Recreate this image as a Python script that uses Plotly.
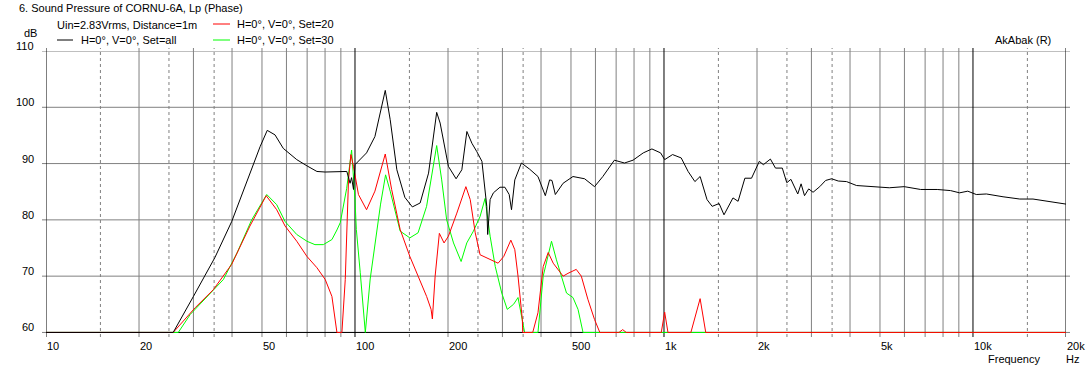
import numpy as np
import plotly.graph_objects as go

# ---------------- data ----------------
freq_all = [10, 25.8, 30, 35.2, 39.9, 45.7, 49.3, 52.0, 55.1, 58.6, 64.8, 69.9, 75.3, 80, 94.1, 96.4, 97.5,
            98.9, 100, 109, 116, 125.3, 130, 136.6, 145, 153.3, 162.5, 173, 183.8, 188.6, 200.6, 212.4,
            221.7, 230.2, 239, 248, 257.5, 267, 268.8, 273.7, 280.5, 294.6, 305.6, 315.5, 321, 329, 345.6,
            367.5, 391, 413, 426.4, 434, 445, 471.5, 507.5, 553.5, 596, 634, 691, 745, 794, 857, 914, 975,
            1005, 1066, 1137, 1197, 1259, 1309, 1378, 1432, 1508, 1564, 1672, 1737, 1827, 1920, 2035, 2097,
            2210, 2295, 2415, 2497, 2575, 2710, 2778, 2850, 2940, 3037, 3193, 3335, 3487, 3665, 3897, 4199,
            4979, 5360, 5990, 6770, 7660, 8460, 9050, 9620, 10250, 11050, 12510, 14170, 15640, 17730, 20000]
spl_all = [60, 60, 66.4, 73.3, 79.7, 88.3, 93.0, 95.9, 95.1, 92.7, 90.7, 89.6, 88.6, 88.5, 88.6, 86.5, 87.5,
           85.4, 89.8, 91.9, 94.8, 103.0, 97.8, 88.9, 84.0, 82.3, 83.0, 88.3, 99.1, 97.2, 89.5, 87.3,
           88.9, 95.7, 93.6, 92.1, 90.4, 82.4, 77.4, 83.6, 84.8, 85.8, 85.8, 84.5, 81.8, 87.1, 90.1,
           89.0, 87.7, 84.3, 87.1, 87.0, 84.5, 86.5, 87.7, 87.3, 85.9, 87.7, 90.6, 90.1, 90.6, 91.9, 92.6, 91.9,
           90.7, 91.6, 91.0, 88.6, 86.8, 87.7, 83.6, 82.4, 82.9, 80.9, 83.9, 83.3, 87.4, 87.4, 90.4, 89.8,
           90.8, 89.2, 89.2, 86.6, 87.2, 84.6, 86.4, 84.3, 85.5, 84.9, 85.9, 87.0, 87.3, 86.9, 86.8, 86.1,
           85.9, 85.7, 85.9, 85.4, 85.4, 85.2, 84.8, 85.1, 84.5, 84.6, 84.1, 83.7, 83.7, 83.3, 82.8]

freq_20 = [10, 25.8, 30.4, 34.8, 39.9, 45.7, 51.6, 55.8, 59.4, 64.8, 69.9, 75.3, 80.1, 84.2, 87.4, 90.7, 93,
           95.3, 97, 98.9, 102.6, 109, 116, 125.3, 131.4, 140, 150.5, 160, 170.5, 176.3, 178, 181.7, 187.5,
           194.2, 200.6, 213.6, 228.5, 236, 245, 254, 267, 277, 290.5, 303, 319.4, 329, 337, 348, 349, 376,
           391, 406.5, 422, 438, 471.5, 489, 520, 540, 567, 596, 620, 715, 735, 755, 980, 1005, 1030, 1222,
           1309, 1365, 20000]
spl_20 = [60, 60, 64.4, 67.6, 72.1, 78.9, 84.3, 81.8, 78.9, 76.2, 73.5, 71.5, 69.4, 66.4, 60, 60, 69.4,
          87.1, 91.6, 89.5, 84.5, 81.8, 85.1, 91.7, 85.4, 78.3, 73.5, 70, 66.4, 64.1, 62.4, 70, 77.6,
          75.9, 77.1, 81.2, 85.9, 83.6, 77.7, 73.8, 73.2, 72.9, 72.3, 73.5, 76.4, 74.7, 70, 62.3, 60, 60,
          63.5, 71.7, 74.2, 72.3, 70, 70.5, 71.2, 70, 65.9, 62.3, 60, 60, 60.5, 60, 60, 63.6, 60, 60,
          66.0, 60, 60]

freq_30 = [10, 26.8, 29.3, 33.1, 37.5, 41.5, 46.3, 51.8, 55.8, 59.4, 64.8, 69.9, 74.2, 79, 84.2, 87.4, 89.6,
           94, 97.5, 100, 101, 104, 105.4, 108, 112, 121, 125.6, 130, 140, 150.5, 160, 170.5, 183.8, 190.8,
           198, 208.4, 220.5, 230, 241.7, 254, 263.6, 273.7, 284.4, 298.5, 311, 326, 337, 345, 354, 391,
           406.5, 432.5, 448.7, 483.6, 507.5, 527, 547, 20000]
spl_30 = [60, 60, 63.2, 66.2, 69.4, 74.1, 80, 84.5, 82.7, 79.7, 77.4, 76.2, 75.6, 75.6, 76.5, 78.2, 79.5,
          85.6, 92.4, 83.6, 78.3, 70.6, 67, 60, 69.5, 82.8, 88, 85.1, 78, 76.8, 77.7, 82.4, 93.2, 87.1,
          80, 75.9, 72.6, 75.9, 78, 80.6, 83.8, 77.1, 71.7, 67, 64.1, 65, 66.2, 63.5, 60, 60,
          70, 76.2, 72.9, 67, 66.2, 64.1, 60, 60]

x_tick_vals = [10, 20, 50, 100, 200, 500, 1000, 2000, 5000, 10000, 20000]
x_tick_text = ["10", "20", "50", "100", "200", "500", "1k", "2k", "5k", "10k", "20k"]
y_tick_vals = [60, 70, 80, 90, 100, 110]

decades = [10, 100, 1000, 10000, 20000]
minor_lines = [d * m for d in (10, 100, 1000) for m in range(2, 10)]
dashed_lines = [15, 25, 35, 150, 250, 350, 1500, 2500, 3500, 15000]

# ---------------- layout helpers ----------------
W, H = 1092, 371
L, R, T, B = 46, 1066, 51, 333   # plot-area edges in pixels


def px(x):
    return (x - L) / (R - L)


def py(y):
    return (B - y) / (B - T)


FONT = "Liberation Sans"
GRAY = "#808080"

fig = go.Figure()
for f, s, c in [(freq_30, spl_30, "#00ff00"), (freq_20, spl_20, "#ff0000"), (freq_all, spl_all, "#000000")]:
    fig.add_trace(go.Scatter(x=f, y=s, mode="lines", line=dict(color=c, width=1), hoverinfo="skip",
                             showlegend=False))

shapes = []
ylo = -4 / (B - T)
yhi = 1 + 3 / (B - T)
for v in y_tick_vals:
    shapes.append(dict(type="line", xref="paper", yref="y", x0=-4 / (R - L), x1=1 + 4 / (R - L), y0=v, y1=v,
                       line=dict(color=GRAY, width=1), layer="below"))
for v in minor_lines:
    shapes.append(dict(type="line", xref="x", yref="paper", x0=v, x1=v, y0=ylo, y1=yhi,
                       line=dict(color=GRAY, width=1), layer="below"))
for v in dashed_lines:
    shapes.append(dict(type="line", xref="x", yref="paper", x0=v, x1=v, y0=ylo, y1=yhi,
                       line=dict(color=GRAY, width=1, dash="3px,3px"), layer="below"))
for v in decades:
    shapes.append(dict(type="line", xref="x", yref="paper", x0=v, x1=v, y0=ylo, y1=yhi,
                       line=dict(color="#000000", width=1), layer="below"))
shapes.append(dict(type="line", xref="paper", yref="y", x0=0, x1=1, y0=60, y1=60,
                   line=dict(color="#000000", width=1), layer="below"))

for (x0, x1, y, c) in [(57, 73, 40, "#000000"), (213, 230, 24, "#ff0000"), (213, 230, 40, "#00ff00")]:
    shapes.append(dict(type="line", xref="paper", yref="paper", x0=px(x0), x1=px(x1), y0=py(y), y1=py(y),
                       line=dict(color=c, width=1)))

ann = []


def text(t, x, y, xanchor="left", size=11):
    ann.append(dict(text=t, xref="paper", yref="paper", x=px(x), y=py(y), xanchor=xanchor, yanchor="middle",
                    showarrow=False, font=dict(family=FONT, size=size, color="#000000"), borderpad=0))


text("6. Sound Pressure of CORNU-6A, Lp (Phase)", 18, 8)
text("Uin=2.83Vrms, Distance=1m", 56, 25)
text("H=0°, V=0°, Set=all", 80, 40)
text("H=0°, V=0°, Set=20", 236, 24)
text("H=0°, V=0°, Set=30", 236, 40)
text("AkAbak (R)", 994, 40)
text("dB", 38, 33, xanchor="right")
text("Frequency", 987, 359)
text("Hz", 1065, 359)

for v in y_tick_vals:
    ann.append(dict(text=str(v), xref="paper", yref="y", x=0, xshift=-11, y=v, yshift=5, xanchor="right",
                    yanchor="middle", showarrow=False, font=dict(family=FONT, size=11, color="#000000"),
                    borderpad=0))
for v, t in zip(x_tick_vals, x_tick_text):
    ann.append(dict(text=t, xref="x", yref="paper", x=np.log10(v), y=0, yshift=-13, xanchor="left",
                    yanchor="middle", showarrow=False, font=dict(family=FONT, size=11, color="#000000"),
                    borderpad=0))

fig.update_layout(
    width=W, height=H,
    margin=dict(l=L, r=W - R, t=T, b=H - B, pad=0),
    paper_bgcolor="white", plot_bgcolor="white",
    shapes=shapes, annotations=ann,
    xaxis=dict(type="log", range=[1, np.log10(20000)], showgrid=False, zeroline=False, showticklabels=False,
               ticks="", showline=False),
    yaxis=dict(range=[59.9, 110], showgrid=False, zeroline=False, showticklabels=False, ticks="",
               showline=False),
    showlegend=False,
)

fig.write_html("out.html", config={"displayModeBar": False},
               post_script="document.body.style.margin='0';document.body.style.overflow='hidden';")
